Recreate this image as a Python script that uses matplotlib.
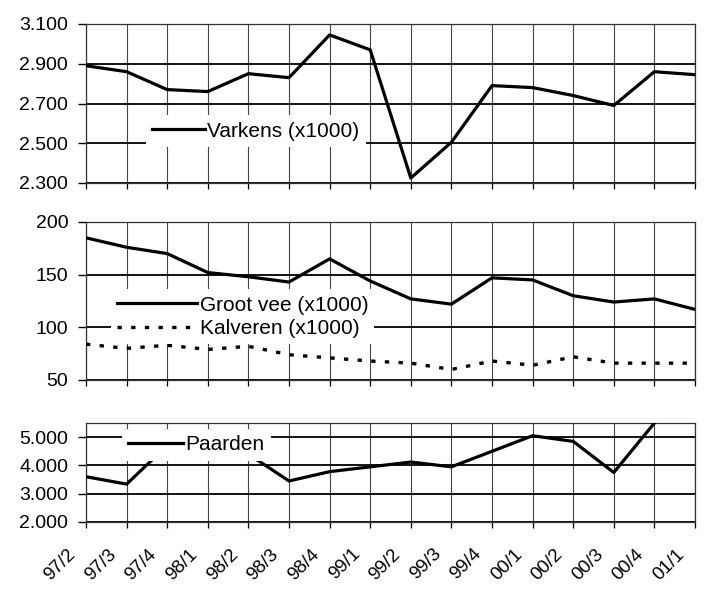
import numpy as np
import matplotlib
matplotlib.use("Agg")
import matplotlib.pyplot as plt
import matplotlib.transforms as mtransforms
from matplotlib.ticker import FuncFormatter

plt.rcParams['font.family'] = ['Liberation Sans', 'DejaVu Sans']

labels = ['97/2', '97/3', '97/4', '98/1', '98/2', '98/3', '98/4', '99/1',
          '99/2', '99/3', '99/4', '00/1', '00/2', '00/3', '00/4', '01/1']
varkens = [2890, 2860, 2770, 2760, 2850, 2830, 3045, 2970,
           2325, 2505, 2790, 2780, 2740, 2690, 2860, 2845]
groot_vee = [185, 176, 170, 152, 148, 143, 165, 144,
             127, 122, 147, 145, 130, 124, 127, 117]
kalveren = [84, 80, 83, 79, 82, 74, 71, 68,
            66, 60, 68, 64, 72, 66, 66, 66]
paarden = [3600, 3340, 4700, 4600, 4400, 3450, 3780, 3950,
           4120, 3950, 4500, 5050, 4850, 3750, 5500, np.nan]

W, H = 708, 600
fig = plt.figure(figsize=(W / 100, H / 100), dpi=100)
fig.patch.set_facecolor('white')

left = 86 / W
width = 609 / W


def make_ax(top_px, bot_px):
    return fig.add_axes([left, 1 - bot_px / H, width, (bot_px - top_px) / H])


x = np.arange(len(labels))


def style(ax, ylo, yhi, step, fmt, ticks, show_labels=False):
    ax.set_xlim(0, len(labels) - 1)
    ax.set_ylim(ylo, yhi)
    ax.set_yticks(ticks)
    ax.yaxis.set_major_formatter(FuncFormatter(fmt))
    ax.set_xticks(x)
    for t in x:
        ax.axvline(t, color='#444444', lw=0.8, zorder=1)
    for v in ticks:
        ax.axhline(v, color='black', lw=1.3, zorder=1)
    for s in ax.spines.values():
        s.set_color('#333333')
        s.set_linewidth(0.9)
    ax.tick_params(axis='y', direction='out', length=5.8, width=1.0,
                   pad=7, labelsize=14)
    ax.tick_params(axis='x', direction='out', length=4.3, width=0.9,
                   labelsize=13.5)
    if show_labels:
        ax.set_xticklabels(labels)
        ax.tick_params(axis='x', pad=17)
        offset = mtransforms.ScaledTranslation(-13 / 100, 0, fig.dpi_scale_trans)
        for lab in ax.get_xticklabels():
            lab.set_rotation(45)
            lab.set_ha('right')
            lab.set_va('center')
            lab.set_rotation_mode('anchor')
            lab.set_transform(lab.get_transform() + offset)
    else:
        ax.set_xticklabels([])


def dotfmt(v, pos):
    return f"{v:,.0f}".replace(',', '.')


def plainfmt(v, pos):
    return f"{v:.0f}"


leg_kw = dict(frameon=True, facecolor='white', edgecolor='none', framealpha=1.0,
              fancybox=False, borderaxespad=0, borderpad=0.3,
              handletextpad=0.1, fontsize=15, loc='center left')

# Top panel
ax1 = make_ax(24, 183)
style(ax1, 2300, 3100, 200, dotfmt, [2300, 2500, 2700, 2900, 3100])
ax1.plot(x, varkens, color='black', lw=2.3, zorder=3, label='Varkens (x1000)')
ax1.legend(bbox_to_anchor=(0.0985, 0.327), handlelength=2.55, **leg_kw)

# Middle panel
ax2 = make_ax(222, 380)
style(ax2, 50, 200, 50, plainfmt, [50, 100, 150, 200])
ax2.plot(x, groot_vee, color='black', lw=2.3, zorder=3, label='Groot vee (x1000)')
ax2.plot(x, kalveren, color='black', lw=2.4, ls=(0, (1.3, 2.8)), zorder=3,
         label='Kalveren (x1000)')
ax2.legend(bbox_to_anchor=(0.041, 0.399), handlelength=3.85, labelspacing=0.22,
           **leg_kw)

# Bottom panel
ax3 = make_ax(423, 522)
style(ax3, 2000, 5500, 1000, dotfmt, [2000, 3000, 4000, 5000], show_labels=True)
ax3.plot(x, paarden, color='black', lw=2.3, zorder=3, label='Paarden')
ax3.legend(bbox_to_anchor=(0.059, 0.778), handlelength=2.65, **leg_kw)

fig.savefig('out.png', dpi=100, facecolor='white')
